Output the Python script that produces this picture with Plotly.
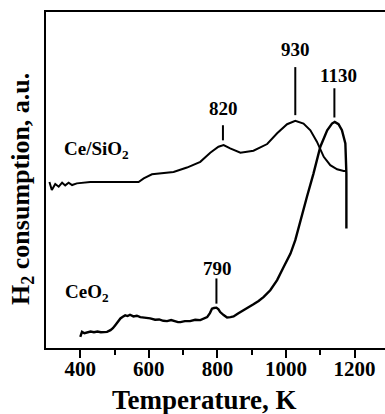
import plotly.graph_objects as go

# Ce/SiO2 TPR trace (temperature in K, H2 consumption in a.u.)
ce_sio2_T = [310, 317, 327, 337, 347, 356, 366, 376, 390, 429, 570, 585, 609, 624,
             672, 711, 750, 779, 803, 818, 837, 867, 905, 945, 974, 1003, 1027,
             1051, 1071, 1090, 1110, 1129, 1149, 1168, 1176]
ce_sio2_h2 = [49.4, 47.0, 48.8, 48.0, 49.2, 48.4, 49.2, 48.5, 49.0, 49.4, 49.4, 50.5,
              51.7, 51.9, 52.4, 53.7, 55.4, 58.1, 59.9, 60.4, 59.4, 58.1, 58.7, 60.7,
              63.9, 66.6, 67.6, 66.8, 64.8, 61.4, 56.9, 54.4, 53.2, 52.7, 52.7]

# CeO2 TPR trace
ceo2_T = [400, 403, 405, 412, 420, 430, 440, 450, 460, 470, 478, 488, 495, 502, 510,
          517, 524, 531, 538, 545, 555, 565, 575, 590, 604, 618, 630, 642, 653,
          665, 675, 685, 692, 705, 720, 735, 750, 760, 770, 778, 784, 790, 797,
          803, 808, 818, 828, 838, 847, 860, 876, 890, 905, 920, 935, 954, 974,
          993, 1013, 1027, 1042, 1061, 1080, 1100, 1120, 1134, 1142, 1153, 1163,
          1173, 1176, 1176]
ceo2_h2 = [3.3, 4.2, 4.8, 4.4, 4.6, 4.9, 4.7, 4.9, 4.7, 4.8, 4.8, 5.3, 5.9, 6.8, 7.9,
           8.8, 9.3, 9.7, 9.5, 9.9, 9.4, 9.6, 9.2, 9.0, 8.8, 8.4, 8.5, 8.1, 8.0,
           8.3, 7.9, 7.7, 7.7, 8.0, 8.0, 8.4, 8.3, 8.7, 9.2, 10.4, 11.7, 11.9, 12.0,
           11.5, 10.7, 9.8, 9.1, 9.2, 9.4, 10.3, 11.2, 12.0, 13.0, 14.0, 15.2, 17.2,
           20.2, 24.1, 28.1, 32.1, 38.0, 45.0, 51.9, 59.9, 64.8, 66.8, 67.3, 66.6,
           64.8, 60.9, 51.9, 35.6]

# Peak annotations: label text, marker x, marker line bottom/top, text position
peak_labels = ["820", "930", "1130", "790"]
peak_x = [816, 1027, 1141, 797]
peak_line_lo = [61.8, 69.3, 68.6, 13.2]
peak_line_hi = [66.3, 83.6, 77.3, 20.7]
peak_text_y = [71.3, 88.7, 81.2, 23.8]
peak_text_x = [818, 1027, 1152, 799]

# Sample names
sample_names = ["Ce/SiO<sub>2</sub>", "CeO<sub>2</sub>"]
sample_x = [347, 351]
sample_y = [58.9, 16.3]

x_ticks = [400, 600, 800, 1000, 1200]
x_minor = [500, 700, 900, 1100]

FONT = "Liberation Serif"

fig = go.Figure()
fig.add_trace(go.Scatter(x=ce_sio2_T, y=ce_sio2_h2, mode="lines",
                         line=dict(color="black", width=2), showlegend=False))
fig.add_trace(go.Scatter(x=ceo2_T, y=ceo2_h2, mode="lines",
                         line=dict(color="black", width=2.4), showlegend=False))

for lab, x, lo, hi, tx, ty in zip(peak_labels, peak_x, peak_line_lo, peak_line_hi,
                                  peak_text_x, peak_text_y):
    fig.add_shape(type="line", x0=x, x1=x, y0=lo, y1=hi, xref="x", yref="y",
                  line=dict(color="black", width=2))
    fig.add_annotation(x=tx, y=ty, text=lab, showarrow=False, xref="x", yref="y",
                       font=dict(family=FONT, size=19, color="black", weight="bold"))

for name, x, y in zip(sample_names, sample_x, sample_y):
    fig.add_annotation(x=x, y=y, text=name, showarrow=False, xanchor="left",
                       xref="x", yref="y",
                       font=dict(family=FONT, size=19, color="black", weight="bold"))

# Axis titles, placed as free text so they sit slightly off-centre
fig.add_annotation(x=0.465, y=-0.155, xref="paper", yref="paper",
                   text="Temperature, K", showarrow=False,
                   xanchor="center", yanchor="middle",
                   font=dict(family=FONT, size=27, color="black", weight="bold"))
fig.add_annotation(x=-0.071, y=0.473, xref="paper", yref="paper",
                   text="H<sub>2</sub> consumption, a.u.", showarrow=False,
                   textangle=-90, xanchor="center", yanchor="middle",
                   font=dict(family=FONT, size=26, color="black", weight="bold"))

fig.update_layout(
    width=385, height=414,
    margin=dict(l=46, r=0, t=12, b=66),
    plot_bgcolor="white", paper_bgcolor="white",
    font=dict(family=FONT, color="black", weight="bold"),
    xaxis=dict(
        range=[300, 1288.6], showgrid=False, zeroline=False,
        showline=True, linecolor="black", linewidth=2, mirror=True,
        ticks="outside", ticklen=8, tickwidth=2, tickcolor="black",
        tickvals=x_ticks, ticktext=[str(t) for t in x_ticks],
        ticklabelstandoff=-7,
        tickfont=dict(family=FONT, size=21, weight="bold"),
        minor=dict(tickvals=x_minor, ticks="outside", ticklen=5,
                   tickwidth=2, tickcolor="black"),
    ),
    yaxis=dict(
        range=[0, 100], showgrid=False, zeroline=False,
        showline=True, linecolor="black", linewidth=2,
        showticklabels=False, ticks="",
    ),
)

fig.write_html("out.html")
